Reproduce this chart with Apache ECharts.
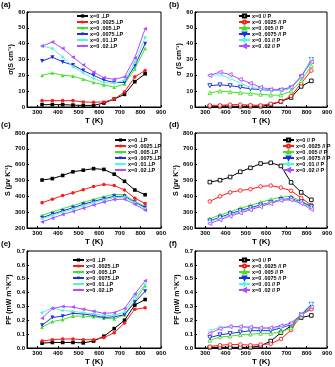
<!DOCTYPE html>
<html>
<head>
<meta charset="utf-8">
<script src="https://cdn.jsdelivr.net/npm/echarts/dist/echarts.min.js"></script>
<style>
  html, body { margin: 0; padding: 0; background: #fff; }
  #main { width: 335px; height: 367px; }
</style>
</head>
<body>
<div id="main"></div>
<script>
// temperatures (K)
var temps = [323, 373, 423, 473, 523, 573, 623, 673, 723, 773, 823];
var xTicks = [300, 400, 500, 600, 700, 800, 900];

var perpNames = ['x=0 ⊥P', 'x=0 .0025⊥P', 'x=0 .005⊥P', 'x=0 .0075⊥P', 'x=0 .01⊥P', 'x=0 .02⊥P'];
var paraNames = ['x=0 // P', 'x=0 .0025 // P', 'x=0 .005 // P', 'x=0 .0075 // P', 'x=0 .01 // P', 'x=0 .02 // P'];

// (a) sigma, perpendicular
var sigPerp0 = [1.5, 1.5, 1.5, 1.2, 1.0, 1.0, 2.5, 5.0, 8.0, 16, 21];
var sigPerp1 = [4.0, 4.0, 4.0, 4.0, 3.2, 3.0, 3.2, 5.0, 9.5, 19, 23];
var sigPerp2 = [20, 21.5, 20, 19.5, 17.5, 15.5, 14, 12.5, 14.5, 24, 37];
var sigPerp3 = [29, 31.5, 28.5, 26.5, 23, 20, 17, 15.5, 15.5, 26, 40];
var sigPerp4 = [38.5, 37, 31.5, 25.5, 21.5, 18, 15.5, 15, 17, 28, 44];
var sigPerp5 = [38.5, 41, 37, 31.5, 26.5, 22, 18.5, 17.5, 19, 31, 49.5];

// (b) sigma, parallel
var sigPara0 = [0.5, 0.5, 0.5, 0.5, 0.5, 0.5, 1.5, 3.5, 6, 13, 16.5];
var sigPara1 = [1, 1, 1.5, 1.5, 1.2, 1, 2, 3.5, 7, 15, 23];
var sigPara2 = [9, 10, 9.5, 9, 8.5, 8, 7.5, 7.5, 10, 16.5, 26];
var sigPara3 = [13.5, 14, 13.5, 12.5, 11.5, 11, 10.5, 10.5, 12, 19, 30];
var sigPara4 = [20, 20.5, 18, 15, 12.5, 11.5, 10.5, 10.5, 12, 19, 30.5];
var sigPara5 = [20, 22, 20.5, 17.5, 15, 12.5, 11, 11, 12.5, 19.5, 28.5];

// (c) Seebeck, perpendicular
var sPerp0 = [503, 512, 532, 555, 565, 575, 570, 540, 495, 440, 410];
var sPerp1 = [360, 382, 405, 422, 442, 462, 475, 468, 440, 388, 355];
var sPerp2 = [280, 302, 322, 342, 362, 380, 398, 413, 410, 368, 335];
var sPerp3 = [265, 288, 308, 328, 350, 368, 385, 400, 400, 362, 330];
var sPerp4 = [258, 280, 300, 320, 340, 360, 378, 392, 395, 360, 322];
var sPerp5 = [238, 262, 285, 305, 325, 345, 365, 380, 382, 350, 312];

// (d) Seebeck, parallel
var sPara0 = [490, 502, 522, 555, 580, 607, 612, 592, 488, 425, 378];
var sPara1 = [368, 400, 425, 437, 445, 462, 468, 455, 435, 390, 345];
var sPara2 = [258, 282, 302, 325, 342, 362, 380, 395, 400, 370, 340];
var sPara3 = [245, 268, 290, 310, 328, 345, 362, 380, 385, 365, 335];
var sPara4 = [240, 262, 282, 302, 320, 340, 360, 378, 380, 362, 325];
var sPara5 = [228, 252, 275, 295, 315, 335, 355, 375, 378, 355, 318];

// (e) power factor, perpendicular
var pfPerp0 = [0.035, 0.04, 0.04, 0.04, 0.037, 0.05, 0.085, 0.14, 0.2, 0.31, 0.35];
var pfPerp1 = [0.05, 0.06, 0.065, 0.065, 0.06, 0.06, 0.075, 0.11, 0.18, 0.28, 0.29];
var pfPerp2 = [0.15, 0.19, 0.205, 0.23, 0.23, 0.225, 0.215, 0.21, 0.24, 0.34, 0.45];
var pfPerp3 = [0.165, 0.22, 0.23, 0.25, 0.245, 0.235, 0.22, 0.225, 0.24, 0.33, 0.41];
var pfPerp4 = [0.255, 0.29, 0.27, 0.265, 0.255, 0.245, 0.235, 0.235, 0.26, 0.37, 0.46];
var pfPerp5 = [0.215, 0.285, 0.30, 0.295, 0.28, 0.265, 0.25, 0.255, 0.285, 0.39, 0.485];

// (f) power factor, parallel
var pfPara0 = [0.005, 0.005, 0.005, 0.005, 0.005, 0.015, 0.05, 0.11, 0.16, 0.22, 0.235];
var pfPara1 = [0.01, 0.02, 0.025, 0.025, 0.02, 0.025, 0.03, 0.065, 0.13, 0.24, 0.28];
var pfPara2 = [0.055, 0.08, 0.085, 0.095, 0.1, 0.105, 0.105, 0.115, 0.145, 0.23, 0.3];
var pfPara3 = [0.075, 0.095, 0.105, 0.115, 0.125, 0.125, 0.125, 0.145, 0.17, 0.24, 0.315];
var pfPara4 = [0.125, 0.15, 0.155, 0.15, 0.145, 0.14, 0.14, 0.15, 0.175, 0.245, 0.32];
var pfPara5 = [0.105, 0.14, 0.155, 0.155, 0.15, 0.145, 0.145, 0.16, 0.18, 0.24, 0.295];

var colors = ['#000000', '#ff1a1a', '#44e02a', '#1f2fe0', '#55f5dd', '#b44dff'];
var symbols = [
  'rect',
  'circle',
  'triangle',
  'path://M0,0L10,0L5,10Z',
  'diamond',
  'path://M10,0L10,10L0,5Z'
];

var panels = [
  {tag: '(a)', names: perpNames, open: false, data: [sigPerp0, sigPerp1, sigPerp2, sigPerp3, sigPerp4, sigPerp5],
   min: 0, max: 60, step: 10, dec: 0, yName: 'σ(S cm⁻¹)', nameGap: 10},
  {tag: '(b)', names: paraNames, open: true, data: [sigPara0, sigPara1, sigPara2, sigPara3, sigPara4, sigPara5],
   min: 0, max: 60, step: 10, dec: 0, yName: 'σ (S cm⁻¹)', nameGap: 10},
  {tag: '(c)', names: perpNames, open: false, data: [sPerp0, sPerp1, sPerp2, sPerp3, sPerp4, sPerp5],
   min: 200, max: 800, step: 100, dec: 0, yName: 'S (μv K⁻¹)', nameGap: 14},
  {tag: '(d)', names: paraNames, open: true, data: [sPara0, sPara1, sPara2, sPara3, sPara4, sPara5],
   min: 200, max: 800, step: 100, dec: 0, yName: 'S (μv K⁻¹)', nameGap: 14},
  {tag: '(e)', names: perpNames, open: false, data: [pfPerp0, pfPerp1, pfPerp2, pfPerp3, pfPerp4, pfPerp5],
   min: 0, max: 0.7, step: 0.1, dec: 1, yName: 'PF (mW m⁻¹K⁻²)', nameGap: 14},
  {tag: '(f)', names: paraNames, open: true, data: [pfPara0, pfPara1, pfPara2, pfPara3, pfPara4, pfPara5],
   min: 0, max: 0.7, step: 0.1, dec: 1, yName: 'PF (mW m⁻¹K⁻²)', nameGap: 14}
];

// grid boxes and legend spots
var boxes = [
  {left: 27, top: 12, legL: 76, legT: 13},
  {left: 195, top: 12, legL: 238, legT: 13},
  {left: 27, top: 133, legL: 114, legT: 137},
  {left: 195, top: 133, legL: 282, legT: 137},
  {left: 27, top: 251, legL: 72, legT: 257},
  {left: 195, top: 251, legL: 238, legT: 257}
];
var tagPos = [[1, 1], [169, 1], [1, 121], [169, 121], [1, 240], [169, 240]];

var font = 'Liberation Sans, Arial, sans-serif';

var grid = [], xAxis = [], yAxis = [], series = [], legend = [], graphic = [];

panels.forEach(function (p, gi) {
  var b = boxes[gi];
  grid.push({
    left: b.left, top: b.top, width: 134, height: gi < 4 ? 95 : 97,
    show: true, borderColor: '#000', borderWidth: 1, backgroundColor: 'transparent'
  });
  xAxis.push({
    type: 'value', gridIndex: gi, min: 250, max: 900,
    name: 'T (K)', nameLocation: 'middle', nameGap: 10,
    nameTextStyle: {fontSize: 8, fontWeight: 'bold', fontFamily: font, color: '#000'},
    axisLine: {lineStyle: {color: '#000', width: 1}},
    axisTick: {inside: true, length: 2, customValues: xTicks, lineStyle: {color: '#000'}},
    axisLabel: {customValues: xTicks, fontSize: 6, fontWeight: 'bold', fontFamily: font, color: '#000', margin: 2},
    splitLine: {show: false}
  });
  yAxis.push({
    type: 'value', gridIndex: gi, min: p.min, max: p.max, interval: p.step,
    name: p.yName, nameLocation: 'middle', nameGap: p.nameGap, nameRotate: 90,
    nameTextStyle: {fontSize: 7, fontWeight: 'bold', fontFamily: font, color: '#000'},
    axisLine: {show: true, lineStyle: {color: '#000', width: 1}},
    axisTick: {inside: true, length: 2, lineStyle: {color: '#000'}},
    axisLabel: {
      fontSize: 6, fontWeight: 'bold', fontFamily: font, color: '#000', margin: 2,
      formatter: function (v) { return v.toFixed(p.dec); }
    },
    splitLine: {show: false}
  });
  p.data.forEach(function (vals, si) {
    var c = colors[si];
    series.push({
      name: p.names[si],
      type: 'line',
      xAxisIndex: gi,
      yAxisIndex: gi,
      data: temps.map(function (t, k) { return [t, vals[k]]; }),
      symbol: symbols[si],
      symbolSize: si === 3 || si === 5 ? 4 : 3.6,
      showAllSymbol: true,
      lineStyle: {color: c, width: 1},
      itemStyle: p.open ? {color: '#fff', borderColor: c, borderWidth: 0.9} : {color: c, borderWidth: 0},
      animation: false,
      z: 2 + si
    });
  });
  legend.push({
    data: p.names,
    orient: 'vertical',
    left: b.legL,
    top: b.legT,
    padding: 0,
    itemGap: 0,
    itemWidth: 11,
    itemHeight: 4,
    selectedMode: false,
    textStyle: {fontSize: 5.5, fontWeight: 'bold', fontFamily: font, color: '#000', lineHeight: 4.8, padding: [0, 0, 0, -3]}
  });
  graphic.push({
    type: 'text', left: tagPos[gi][0], top: tagPos[gi][1],
    style: {text: p.tag, fontSize: 8, fontWeight: 'bold', fontFamily: font, fill: '#000'}
  });
});

var chart = echarts.init(document.getElementById('main'), null, {renderer: 'canvas'});
chart.setOption({
  animation: false,
  backgroundColor: '#fff',
  grid: grid,
  xAxis: xAxis,
  yAxis: yAxis,
  legend: legend,
  graphic: graphic,
  series: series
});
</script>
</body>
</html>
